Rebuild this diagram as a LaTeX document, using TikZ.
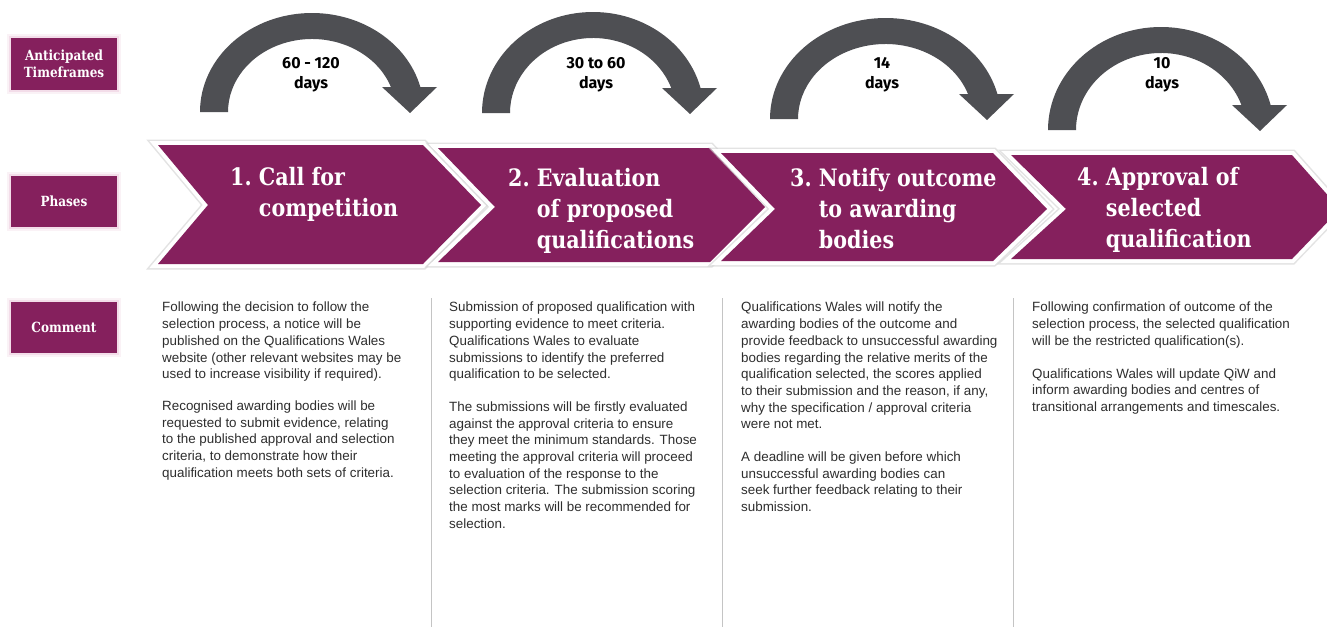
\documentclass[tikz,border=0pt]{standalone}
\usepackage{fontspec}
\setmainfont{Liberation Sans}
\newfontfamily\slabfont{DejaVu Serif}[FakeStretch=0.86]
\newfontfamily\daysfont{Fira Sans}
\newfontfamily\bodyfont{Liberation Sans}
\usetikzlibrary{calc}

\definecolor{plum}{HTML}{85205D}
\definecolor{arrowgray}{HTML}{4E4F53}
\definecolor{bodygray}{HTML}{2E2E2E}
\definecolor{rulegray}{HTML}{C4C4C4}
\definecolor{glow}{HTML}{E6B8D2}

\tikzset{
  labelbox/.style={fill=plum, text=white, minimum width=106pt, minimum height=52pt,
    inner sep=0pt, align=center, font=\slabfont\bfseries\fontsize{14}{16.5}\selectfont,
    preaction={draw=glow, line width=8pt, opacity=0.18},
    preaction={draw=glow, line width=4pt, opacity=0.35}},
  chevron/.style={fill=plum, line join=miter,
    preaction={draw=black!18, line width=11pt, opacity=0.6},
    preaction={draw=white, line width=8pt}},
  phasetext/.style={text=white, inner sep=0pt, anchor=west,
    font=\slabfont\bfseries\fontsize{24}{31}\selectfont},
  daystext/.style={text=black, inner sep=0pt, align=center,
    font=\daysfont\bfseries\fontsize{16}{20}\selectfont},
  bodytext/.style={text=bodygray, inner sep=0pt, anchor=north west, align=left,
    font=\bodyfont\fontsize{13.4}{16.7}\selectfont},
  divider/.style={draw=rulegray, line width=0.9pt}
}

% chevron: left, notch, right top corner, tip, top, middle, bottom
\newcommand\phasechevron[7]{%
  \path[chevron] (#1,#5) -- (#3,#5) -- (#4,#6) -- (#3,#7) -- (#1,#7) -- (#2,#6) -- cycle;}

% curved time arrow: centre x, foot y, centre-line x radius, outer y radius
\newcommand\timearrow[4]{%
  \pgfmathsetmacro\toa{asin(25/#4)}%
  \pgfmathsetmacro\tia{asin(25/(#4-26))}%
  \pgfmathsetmacro\ix{#1+(#3-14)*cos(\tia)}%
  \fill[arrowgray] (#1-#3-14,#2)
    arc[start angle=180, end angle=360-\toa, x radius=#3+14, y radius=#4]
    -- (#1+#3+27,#2-25) -- (#1+#3,#2+1) -- (#1+#3-28,#2-25) -- (\ix,#2-25)
    arc[start angle=360-\tia, end angle=180, x radius=#3-14, y radius=#4-26]
    -- cycle;}

\begin{document}
\begin{tikzpicture}[x=1pt, y=-1pt]
\useasboundingbox (0,0) rectangle (1327,627);
\clip (0,0) rectangle (1327,627);
\fill[white] (0,0) rectangle (1327,627);

% row labels
\node[labelbox] (lblTime) at (64,64) {Anticipated\\Timeframes};
\node[labelbox, minimum height=51pt] (lblPhase) at (64,201.5) {Phases};
\node[labelbox, minimum height=51pt] (lblComment) at (64,327.5) {Comment};

% time arrows
\timearrow{312}{112}{98}{99}
\timearrow{593}{113}{97}{101}
\timearrow{885.5}{119}{101.5}{101}
\timearrow{1161}{130}{99}{103}

\node[daystext] (d1) at (311,75) {60 - 120\\days};
\node[daystext] (d2) at (596,75) {30 to 60\\days};
\node[daystext] (d3) at (882,75) {14\\days};
\node[daystext] (d4) at (1162,75) {10\\days};

% phase chevrons
\phasechevron{158}{208}{423}{481}{145}{205}{264}
\phasechevron{438}{495}{710}{765}{148}{207}{262}
\phasechevron{721}{775}{993}{1047}{153}{209}{261}
\phasechevron{1011}{1066}{1292}{1340}{155}{209}{259}

\node[phasetext] (p1) at (230,195)
  {\begin{tabular}{@{}l@{\ }l@{}}1. & Call for\\ & competition\end{tabular}};
\node[phasetext] (p2) at (508,211)
  {\begin{tabular}{@{}l@{\ }l@{}}2. & Evaluation\\ & of proposed\\ & qualifications\end{tabular}};
\node[phasetext] (p3) at (790,211)
  {\begin{tabular}{@{}l@{\ }l@{}}3. & Notify outcome\\ & to awarding\\ & bodies\end{tabular}};
\node[phasetext] (p4) at (1077,210)
  {\begin{tabular}{@{}l@{\ }l@{}}4. & Approval of\\ & selected\\ & qualification\end{tabular}};

% column dividers
\draw[divider] (431,298) -- (431,627);
\draw[divider] (722,298) -- (722,627);
\draw[divider] (1013,298) -- (1013,627);

% comments
\node[bodytext] (c1) at (162,302) {Following the decision to follow the\\
selection process, a notice will be\\
published on the Qualifications Wales\\
website (other relevant websites may be\\
used to increase visibility if required).\\[15pt]
Recognised awarding bodies will be\\
requested to submit evidence, relating\\
to the published approval and selection\\
criteria, to demonstrate how their\\
qualification meets both sets of criteria.};

\node[bodytext] (c2) at (449,302) {Submission of proposed qualification with\\
supporting evidence to meet criteria.\\
Qualifications Wales to evaluate\\
submissions to identify the preferred\\
qualification to be selected.\\[16pt]
The submissions will be firstly evaluated\\
against the approval criteria to ensure\\
they meet the minimum standards. Those\\
meeting the approval criteria will proceed\\
to evaluation of the response to the\\
selection criteria. The submission scoring\\
the most marks will be recommended for\\
selection.};

\node[bodytext] (c3) at (741,302) {Qualifications Wales will notify the\\
awarding bodies of the outcome and\\
provide feedback to unsuccessful awarding\\
bodies regarding the relative merits of the\\
qualification selected, the scores applied\\
to their submission and the reason, if any,\\
why the specification / approval criteria\\
were not met.\\[16pt]
A deadline will be given before which\\
unsuccessful awarding bodies can\\
seek further feedback relating to their\\
submission.};

\node[bodytext] (c4) at (1032,302) {Following confirmation of outcome of the\\
selection process, the selected qualification\\
will be the restricted qualification(s).\\[16pt]
Qualifications Wales will update QiW and\\
inform awarding bodies and centres of\\
transitional arrangements and timescales.};
\end{tikzpicture}
\end{document}
